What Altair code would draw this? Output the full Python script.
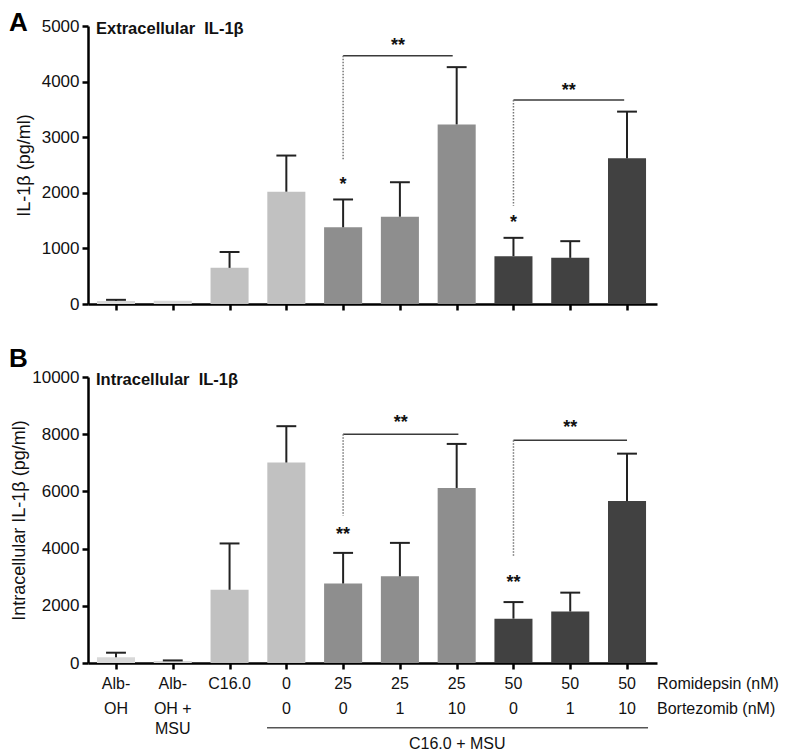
import altair as alt
import pandas as pd

# ---------------- data ----------------
idx = list(range(10))
groups = ["ctrl", "ctrl", "c16", "c16", "r25", "r25", "r25", "r50", "r50", "r50"]
group_domain = ["ctrl", "c16", "r25", "r50"]
group_colors = ["#d8d8d8", "#c1c1c1", "#8e8e8e", "#414141"]

ext_mean = [55, 60, 650, 2020, 1380, 1570, 3230, 860, 830, 2620]
ext_upper = [75, 60, 935, 2670, 1880, 2190, 4260, 1190, 1130, 3460]
int_mean = [200, 70, 2560, 7010, 2780, 3030, 6120, 1550, 1800, 5660]
int_upper = [360, 90, 4180, 8280, 3850, 4200, 7660, 2130, 2460, 7320]

romidepsin_row = ["Alb-", "Alb-", "C16.0", "0", "25", "25", "25", "50", "50", "50"]
bortezomib_row = ["OH", "OH +", "", "0", "0", "1", "10", "0", "1", "10"]
third_row = ["", "MSU", "", "", "", "", "", "", "", ""]

# stars above single bars
ext_star_i = [4, 7]
ext_star_y = [2212, 1529]
ext_star_t = ["*", "*"]
int_star_i = [4, 7]
int_star_y = [4621, 2934]
int_star_t = ["**", "**"]

# brackets
ext_br_start = [4, 7]
ext_br_end = [5.93, 8.95]
ext_br_level = [4466, 3669]
ext_br_low = [2590, 1768]
ext_br_label_y = [4712, 3903]
int_br_start = [4, 7]
int_br_end = [6.03, 9.0]
int_br_level = [7998, 7788]
int_br_low = [5145, 3748]
int_br_label_y = [8543, 8348]
br_text = ["**", "**"]

group_line = {"a": [2.66], "b": [9.37], "mid": [6.01], "t": ["C16.0 + MSU"]}

FONT = "Liberation Sans"
W = 569
xs = alt.Scale(domain=[-0.493, 9.528], nice=False, zero=False)


def panel(mean, upper, ymax, ystep, height, ytitle, title, letter,
          star_i, star_y, star_t, br_s, br_e, br_l, br_low, br_ly, tp,
          bottom=False):
    df = pd.DataFrame({"i": idx, "mean": mean, "upper": upper, "group": groups})
    ys = alt.Scale(domain=[0, ymax], nice=False, zero=True)
    base = alt.Chart(df)

    def X(field):
        return alt.X(field, scale=xs, title=None)

    def Y(field):
        return alt.Y(field, scale=ys, title=ytitle)

    bars = base.transform_calculate(
        x0="datum.i - 0.335", x1="datum.i + 0.335"
    ).mark_bar().encode(
        x=alt.X("x0:Q", scale=xs, title=None,
                axis=alt.Axis(values=idx, labels=False, title=None, grid=False,
                              tickSize=6, tickWidth=2.5, tickColor="#000",
                              domainWidth=2.5, domainColor="#000")),
        x2="x1:Q",
        y=alt.Y("mean:Q", scale=ys, title=ytitle,
                axis=alt.Axis(values=list(range(0, ymax + 1, ystep)), title=ytitle,
                              format="d", grid=False, tickSize=6, tickWidth=2.5,
                              tickColor="#000", domainWidth=2.5, domainColor="#000",
                              labelFontSize=17, labelPadding=3, titleFontSize=18,
                              titleFontWeight="normal", titlePadding=tp)),
        y2=alt.datum(0),
        color=alt.Color("group:N", scale=alt.Scale(domain=group_domain, range=group_colors),
                        legend=None),
    )

    errbase = base.transform_filter("datum.upper > datum.mean")
    err = errbase.mark_rule(color="#222", strokeWidth=2).encode(
        x=X("i:Q"), y=Y("mean:Q"), y2="upper:Q",
    )
    caps = errbase.transform_calculate(
        c0="datum.i - 0.175", c1="datum.i + 0.175"
    ).mark_rule(color="#222", strokeWidth=2).encode(
        x=X("c0:Q"), x2="c1:Q", y=Y("upper:Q"),
    )

    sdf = pd.DataFrame({"i": star_i, "y": star_y, "t": star_t})
    stars = alt.Chart(sdf).mark_text(fontSize=18, fontWeight="bold", baseline="alphabetic",
                                     dy=9, color="#111").encode(
        x=X("i:Q"), y=Y("y:Q"), text="t:N",
    )

    bdf = pd.DataFrame({"s": br_s, "e": br_e, "l": br_l, "low": br_low,
                        "ly": br_ly, "t": br_text})
    bbase = alt.Chart(bdf)
    hline = bbase.mark_rule(color="#3a3a3a", strokeWidth=1.6).encode(
        x=X("s:Q"), x2="e:Q", y=Y("l:Q"),
    )
    vline = bbase.mark_rule(color="#777", strokeWidth=1.5, strokeDash=[1.5, 1.5]).encode(
        x=X("s:Q"), y=Y("l:Q"), y2="low:Q",
    )
    btext = bbase.transform_calculate(mid="(datum.s + datum.e) / 2").mark_text(
        fontSize=18, fontWeight="bold", baseline="alphabetic", dy=9, color="#111"
    ).encode(
        x=X("mid:Q"), y=Y("ly:Q"), text="t:N",
    )

    one = alt.Data(values=[{}])
    ttl = alt.Chart(one).mark_text(text=title, fontSize=16.5, fontWeight="bold",
                                   align="left", baseline="middle", color="#111").encode(
        x=alt.value(8), y=alt.value(3))
    let = alt.Chart(one).mark_text(text=letter, fontSize=26, fontWeight="bold",
                                   align="left", baseline="top", color="#000").encode(
        x=alt.value(-79), y=alt.value(-16 if letter == "A" else -31))

    layers = [bars, err, caps, stars, hline, vline, btext, ttl, let]

    if bottom:
        ldf = pd.DataFrame({"i": idx, "r1": romidepsin_row, "r2": bortezomib_row,
                            "r3": third_row})
        lb = alt.Chart(ldf)
        for field, yy in (("r1", 20.7), ("r2", 45.7), ("r3", 65.7)):
            layers.append(lb.mark_text(fontSize=16, baseline="middle", color="#111").encode(
                x=X("i:Q"), y=alt.value(height + yy), text=f"{field}:N"))
        layers.append(alt.Chart(one).mark_text(text="Romidepsin (nM)", fontSize=16,
                                               align="left", baseline="middle",
                                               color="#111").encode(
            x=alt.value(W), y=alt.value(height + 20.7)))
        layers.append(alt.Chart(one).mark_text(text="Bortezomib (nM)", fontSize=16,
                                               align="left", baseline="middle",
                                               color="#111").encode(
            x=alt.value(W), y=alt.value(height + 45.7)))
        gdf = pd.DataFrame(group_line)
        layers.append(alt.Chart(gdf).mark_rule(color="#555", strokeWidth=1.5).encode(
            x=X("a:Q"), x2="b:Q", y=alt.value(height + 64.7)))
        layers.append(alt.Chart(gdf).mark_text(fontSize=16, baseline="middle",
                                               color="#111").encode(
            x=X("mid:Q"), y=alt.value(height + 81), text="t:N"))

    return alt.layer(*layers).properties(width=W, height=height)


panel_a = panel(ext_mean, ext_upper, 5000, 1000, 278, "IL-1β (pg/ml)",
                "Extracellular\u00a0\u00a0IL-1β", "A", ext_star_i, ext_star_y, ext_star_t,
                ext_br_start, ext_br_end, ext_br_level, ext_br_low, ext_br_label_y, 8)
panel_b = panel(int_mean, int_upper, 10000, 2000, 286, "Intracellular IL-1β (pg/ml)",
                "Intracellular\u00a0\u00a0IL-1β", "B", int_star_i, int_star_y, int_star_t,
                int_br_start, int_br_end, int_br_level, int_br_low, int_br_label_y, 3,
                bottom=True)

chart = alt.vconcat(panel_a, panel_b, spacing=34).properties(
    padding={"left": 1, "top": 2, "right": 0, "bottom": 0},
    background="white",
).configure_view(stroke=None).configure_axis(
    labelFont=FONT, titleFont=FONT, labelColor="#111", titleColor="#111"
).configure_text(font=FONT)

chart.save("out.html", embed_options={"renderer": "svg", "actions": False})
